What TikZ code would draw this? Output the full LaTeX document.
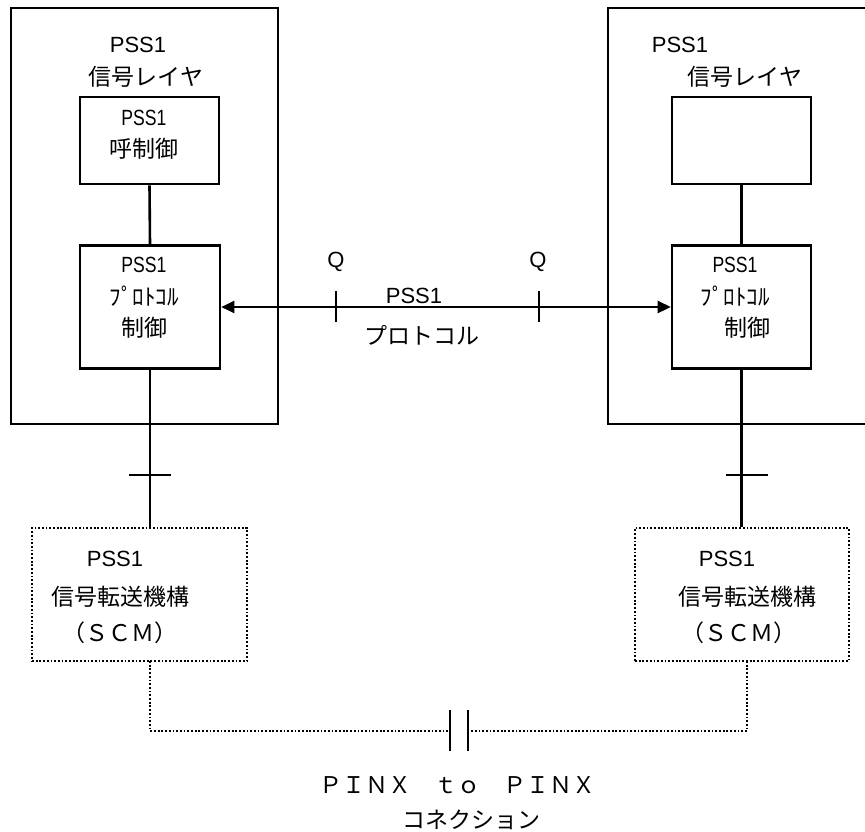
\documentclass[tikz,border=0pt]{standalone}
\usepackage{fontspec}
\setmainfont{Liberation Sans}
\newfontfamily\jp{Noto Sans CJK JP}
\newfontfamily\narrowlat[FakeStretch=0.8]{Liberation Sans}
\usetikzlibrary{arrows.meta}
\tikzset{
  box/.style={draw, line width=2.6pt, inner sep=0pt},
  dotbox/.style={draw, line width=2.4pt, dash pattern=on 1.8pt off 1.9pt, inner sep=0pt},
  dotline/.style={line width=2.4pt, dash pattern=on 1.8pt off 1.9pt},
  solid line/.style={line width=2.6pt},
  lbl/.style={inner sep=0pt, anchor=center, font=\fontsize{22}{26}\selectfont},
  jlbl/.style={inner sep=0pt, anchor=center, font=\fontsize{23}{27}\selectfont\jp},
  nlbl/.style={inner sep=0pt, anchor=center, font=\fontsize{22}{26}\selectfont\narrowlat},
}
\begin{document}
\begin{tikzpicture}[x=1pt,y=-1pt]
\useasboundingbox (0,0) rectangle (865,832);
\clip (0,0) rectangle (865,832);
\fill[white] (0,0) rectangle (865,832);
% outer layer boxes
\node[box, minimum width=267pt, minimum height=416pt] (lout) at (144.5,216) {};
\node[box, minimum width=272pt, minimum height=416pt] (rout) at (744,216) {};
% left inner boxes
\node[box, minimum width=139pt, minimum height=87pt] (lcall) at (149.5,140.5) {};
\node[box, minimum width=140pt, minimum height=123pt] (lproto) at (150,307) {};
% right inner boxes
\node[box, minimum width=139pt, minimum height=87pt] (rcall) at (741.5,140.5) {};
\node[box, minimum width=139pt, minimum height=123pt] (rproto) at (741.5,307) {};
% titles
\node[lbl] (lt1) at (138,45) {PSS1};
\node[jlbl] (lt2) at (146,77) {信号レイヤ};
\node[lbl] (rt1) at (680,45) {PSS1};
\node[jlbl] (rt2) at (745,77) {信号レイヤ};
% left box texts
\node[nlbl] (lc1) at (144,118) {PSS1};
\node[jlbl] (lc2) at (144,149) {呼制御};
\node[nlbl] (lp1) at (144,265) {PSS1};
\node[jlbl] (lp2) at (144,296) {ﾌﾟﾛﾄｺﾙ};
\node[jlbl] (lp3) at (144,328) {制御};
% right box texts
\node[nlbl] (rp1) at (735,265) {PSS1};
\node[jlbl] (rp2) at (735,296) {ﾌﾟﾛﾄｺﾙ};
\node[jlbl] (rp3) at (747,328) {制御};
% vertical links
\draw[solid line] (lcall.south) -- (lproto.north);
\draw[solid line] (rcall.south) -- (rproto.north);
% protocol arrow
\draw[solid line, {Triangle[length=13pt,width=12pt]}-{Triangle[length=13pt,width=12pt]}] (lproto.east) -- (rproto.west);
\coordinate (q1) at (336,307);
\coordinate (q2) at (539,307);
\draw[solid line] ([yshift=-15pt]q1) -- ([yshift=16pt]q1);
\draw[solid line] ([yshift=-15pt]q2) -- ([yshift=16pt]q2);
\node[lbl] (ql) at (336,262) {Q};
\node[lbl] (qr) at (538,262) {Q};
\node[lbl] (pl1) at (414,296) {PSS1};
\node[jlbl] (pl2) at (422,335) {プロトコル};
% SCM boxes
\node[dotbox, minimum width=215pt, minimum height=133pt] (lscm) at (139.5,594.5) {};
\node[dotbox, minimum width=214pt, minimum height=133pt] (rscm) at (742,594.5) {};
\node[lbl] (ls1) at (115,559) {PSS1};
\node[jlbl] (ls2) at (120,597) {信号転送機構};
\node[jlbl] (ls3) at (120,633) {（ＳＣＭ）};
\node[lbl] (rs1) at (727,559) {PSS1};
\node[jlbl] (rs2) at (747,597) {信号転送機構};
\node[jlbl] (rs3) at (739,633) {（ＳＣＭ）};
% links to SCM
\draw[solid line] (lproto.south) -- (lproto.south |- lscm.north);
\draw[solid line] (rproto.south) -- (rproto.south |- rscm.north);
\coordinate (lt) at (150,475);
\coordinate (rt) at (747,475);
\draw[solid line] ([xshift=-21pt]lt) -- ([xshift=21pt]lt);
\draw[solid line] ([xshift=-21pt]rt) -- ([xshift=21pt]rt);
% connection
\coordinate (ldown) at (150,661);
\coordinate (rdown) at (747,661);
\coordinate (b1) at (450,731);
\coordinate (b2) at (468,731);
\draw[dotline] (ldown) |- (b1);
\draw[dotline] (rdown) |- (b2);
\draw[solid line] ([yshift=-20pt]b1) -- ([yshift=21pt]b1);
\draw[solid line] ([yshift=-20pt]b2) -- ([yshift=21pt]b2);
\node[jlbl] (px) at (457,785) {ＰＩＮＸ　ｔｏ　ＰＩＮＸ};
\node[jlbl] (cx) at (471,820) {コネクション};
\end{tikzpicture}
\end{document}
